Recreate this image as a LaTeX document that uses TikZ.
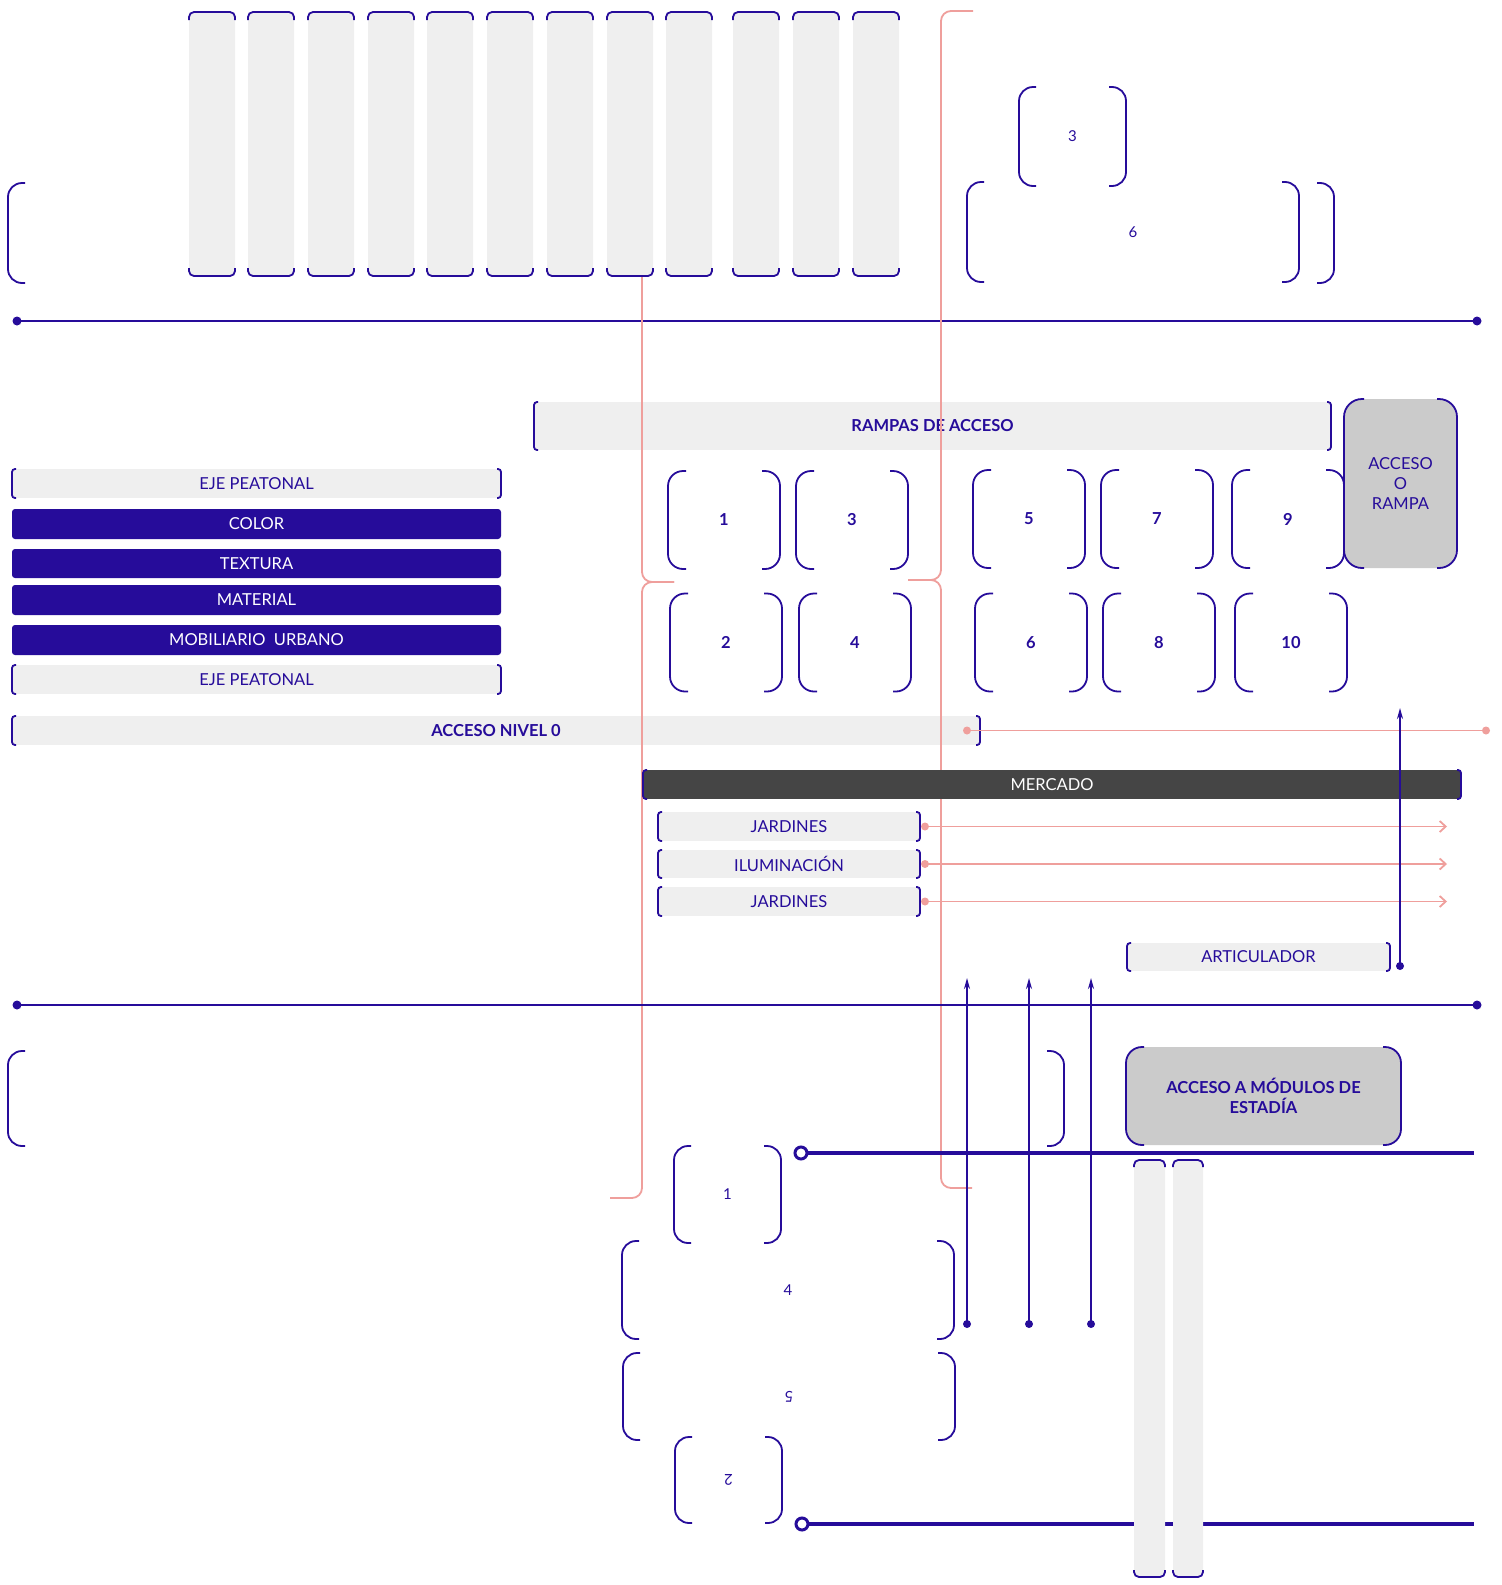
\documentclass[tikz,border=0pt]{standalone}
\usepackage{fontspec}
\setmainfont{Lato}
\usetikzlibrary{arrows.meta, calc}

\definecolor{ink}{HTML}{260C9A}
\definecolor{pale}{HTML}{EFEFEF}
\definecolor{mid}{HTML}{CBCBCB}
\definecolor{dark}{HTML}{454545}
\definecolor{rosa}{HTML}{EF9F9C}

\newcommand{\lbl}{\fontsize{16.5}{20}\selectfont}
\newcommand{\lblb}{\fontsize{16.5}{20}\selectfont\bfseries}
\newcommand{\sml}{\fontsize{15}{16}\selectfont}

\tikzset{
  brk/.style={draw=ink, line width=1.8pt},
  sz/.style 2 args={minimum width=#1pt, minimum height=#2pt},
  bare/.style={inner sep=0pt, outer sep=0pt, text=ink, font=\lbl},
  pale bar/.style={bare, fill=pale},
  ink bar/.style={bare, fill=ink, rounded corners=3pt, text=white},
  cell/.style={bare, font=\lblb},
  axis/.style={ink, line width=2pt},
  pink/.style={rosa, line width=1.8pt},
  up/.style={ink, line width=1.8pt, -{Stealth[length=11pt, width=6pt]}},
  thick axis/.style={ink, line width=4.5pt}
}

% brackets on the left and right side of a node
\newcommand{\sidebrk}[3]{%
  \draw[brk, rounded corners=#3] ($(#1.north west)+(#2,0)$) -- (#1.north west) -- (#1.south west) -- ($(#1.south west)+(#2,0)$);
  \draw[brk, rounded corners=#3] ($(#1.north east)+(-#2,0)$) -- (#1.north east) -- (#1.south east) -- ($(#1.south east)+(-#2,0)$);}
% brackets on the top and bottom of a node
\newcommand{\capbrk}[3]{%
  \draw[brk, rounded corners=#3] ($(#1.north west)+(0,#2)$) -- (#1.north west) -- (#1.north east) -- ($(#1.north east)+(0,#2)$);
  \draw[brk, rounded corners=#3] ($(#1.south west)+(0,-#2)$) -- (#1.south west) -- (#1.south east) -- ($(#1.south east)+(0,-#2)$);}

\begin{document}
\begin{tikzpicture}[x=1pt, y=-1pt]
\useasboundingbox (0,0) rectangle (1502,1585);

% top band
\node[bare, sz={1326}{100}] (band) at (671,233) {};
\sidebrk{band}{17}{14pt}
\node[bare, sz={107}{99}, font=\sml] (t3) at (1072.5,136.5) {3};
\sidebrk{t3}{17}{14pt}
\node[bare, sz={332}{100}, font=\sml] (t6) at (1133,232) {6};
\sidebrk{t6}{17}{14pt}

% columns
\foreach \x [count=\i] in {189,248,308,368,427,487,547,607,666,733,793,853}{
  \node[bare, fill=pale, rounded corners=5pt, sz={46}{264}] (col\i) at (\x+23,144) {};
  \capbrk{col\i}{8}{5pt}
}

% axis 1
\coordinate (a1) at (17,321);
\coordinate (b1) at (1477,321);
\draw[axis] (a1) -- (b1);
\fill[ink] (a1) circle (4.5pt) (b1) circle (4.5pt);

% ramps
\node[pale bar, sz={797}{48}, font=\lblb] (rampas) at (932.5,426) {RAMPAS DE ACCESO};
\sidebrk{rampas}{4}{3pt}
\node[bare, fill=mid, rounded corners=18pt, sz={113}{169}, align=center] (acceso) at (1400.5,483.5) {ACCESO\\O\\RAMPA};
\sidebrk{acceso}{20}{18pt}
\foreach \n/\x/\y in {1/724/520, 3/852/520, 5/1029/519, 7/1157/519, 9/1288/519,
                      2/726/642.5, 4/855/642.5, 6/1031/642.5, 8/1159/642.5, 10/1291/642.5}{
  \node[cell, sz={112}{98}] (m\n) at (\x,\y) {\n};
  \sidebrk{m\n}{18}{15pt}
}

% left bars
\node[pale bar, sz={489}{29}] (eje1) at (256.5,483.5) {EJE PEATONAL};
\node[ink bar, sz={489}{30}] (color) at (256.5,524) {COLOR};
\node[ink bar, sz={489}{29}] (textura) at (256.5,563.5) {TEXTURA};
\node[ink bar, sz={489}{30}] (material) at (256.5,600) {MATERIAL};
\node[ink bar, sz={489}{30}] (mobiliario) at (256.5,640) {MOBILIARIO~~URBANO};
\node[pale bar, sz={489}{29}] (eje2) at (256.5,679.5) {EJE PEATONAL};
\node[pale bar, sz={968}{29}, font=\lblb] (nivel) at (496,730.5) {ACCESO NIVEL 0};
\foreach \n in {eje1, eje2, nivel}{\sidebrk{\n}{4}{3pt}}

% market items
\node[pale bar, sz={262}{29}] (jard1) at (789,826.5) {JARDINES};
\node[pale bar, sz={262}{28}] (ilum) at (789,864) {ILUMINACIÓN};
\node[pale bar, sz={262}{29}] (jard2) at (789,901.5) {JARDINES};
\node[pale bar, sz={263}{28}] (artic) at (1258.5,957) {ARTICULADOR};
\foreach \n in {jard1, ilum, jard2, artic}{\sidebrk{\n}{4}{3pt}}

% pink braces
\draw[pink, rounded corners=10pt] (642,277) -- (642,582) -- (674,582);
\draw[pink, rounded corners=10pt] (674,582) -- (642,582) -- (642,1198) -- (610,1198);
\draw[pink, rounded corners=10pt] (973,11) -- (941,11) -- (941,580) -- (908,580);
\draw[pink, rounded corners=10pt] (908,580) -- (941,580) -- (941,1188) -- (972,1188);

% market
\node[bare, fill=dark, sz={818}{29}, text=white] (mercado) at (1052,784.5) {MERCADO};
\sidebrk{mercado}{4}{3pt}

% pink links
\coordinate (n0) at (967,730.5);
\coordinate (n1) at (1486,730.5);
\draw[pink] (n0) -- (n1);
\fill[rosa] (n0) circle (4pt) (n1) circle (4pt);
\coordinate (tipx) at (1447,0);
\foreach \b in {jard1, ilum, jard2}{
  \coordinate (\b-o) at ($(\b.east)+(5,0)$);
  \draw[pink, -{Straight Barb[length=6pt, width=11pt]}] (\b-o) -- (\b-o -| tipx);
  \fill[rosa] (\b-o) circle (4pt);
}

% articulador arrow
\coordinate (art0) at (1400,966);
\coordinate (art1) at (1400,708);
\draw[up] (art0) -- (art1);
\fill[ink] (art0) circle (4pt);

% axis 2
\coordinate (a2) at (17,1005);
\coordinate (b2) at (1477,1005);
\draw[axis] (a2) -- (b2);
\fill[ink] (a2) circle (4.5pt) (b2) circle (4.5pt);

% rising arrows
\foreach \x [count=\i] in {967,1029,1091}{
  \coordinate (low\i) at (\x,1324);
  \coordinate (high\i) at (\x,978);
  \draw[up] (low\i) -- (high\i);
  \fill[ink] (low\i) circle (4pt);
}

% lower band
\node[bare, sz={1056}{95}] (lowband) at (536,1098.5) {};
\sidebrk{lowband}{17}{14pt}
\node[bare, fill=mid, rounded corners=16pt, sz={275}{98}, font=\lblb, align=center] (modulos) at (1263.5,1096) {ACCESO A MÓDULOS DE\\ESTADÍA};
\sidebrk{modulos}{18}{16pt}

% thick axes
\coordinate (p1) at (801,1153);
\coordinate (q1) at (1474,1153);
\draw[thick axis] (p1) -- (q1);
\draw[ink, line width=3pt, fill=white] (p1) circle (6pt);
\coordinate (p2) at (802,1524);
\coordinate (q2) at (1474,1524);
\draw[thick axis] (p2) -- (q2);
\draw[ink, line width=3pt, fill=white] (p2) circle (6pt);

% pillars
\node[bare, fill=pale, rounded corners=4pt, sz={31}{417}] (pil1) at (1149.5,1368.5) {};
\node[bare, fill=pale, rounded corners=4pt, sz={30}{417}] (pil2) at (1188,1368.5) {};
\capbrk{pil1}{7}{5pt}
\capbrk{pil2}{7}{5pt}

% lower cells
\node[bare, sz={107}{97}, font=\sml] (c1) at (727.5,1194.5) {1};
\node[bare, sz={332}{98}, font=\sml] (c4) at (788,1290) {4};
\node[bare, sz={332}{87}] (c5) at (789,1396.5) {};
\node[bare, font=\sml, rotate=180] (c5t) at (c5) {5};
\node[bare, sz={107}{86}] (c2) at (728.5,1480) {};
\node[bare, font=\sml, rotate=180] (c2t) at (c2) {2};
\foreach \n in {c1, c4, c5, c2}{\sidebrk{\n}{17}{14pt}}

\end{tikzpicture}
\end{document}
